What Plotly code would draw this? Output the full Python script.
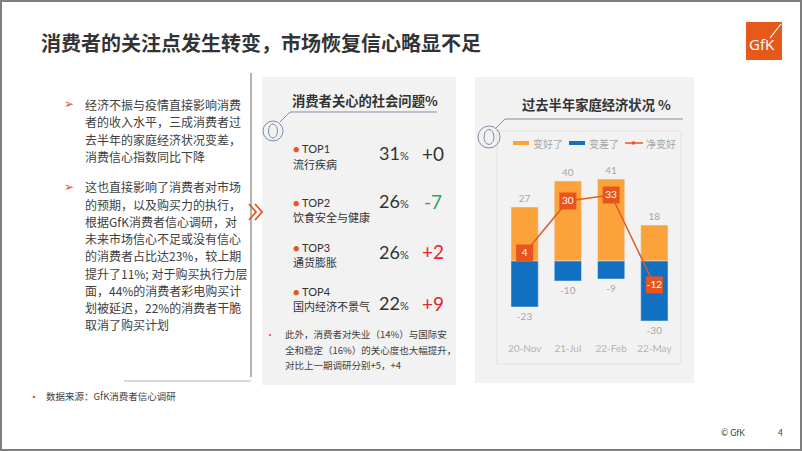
import plotly.graph_objects as go

W, H = 802, 451
def px(x): return x / W
def py(y): return 1 - y / H

# ---------------- data ----------------
periods = ["20-Nov", "21-Jul", "22-Feb", "22-May"]
better = [27, 40, 41, 18]
worse = [-23, -10, -9, -30]
net = [4, 30, 33, -12]

issue_rank = ["TOP1", "TOP2", "TOP3", "TOP4"]
issue_name = ["流行疾病", "饮食安全与健康", "通货膨胀", "国内经济不景气"]
issue_pct = [31, 26, 26, 22]
issue_change = ["+0", "-7", "+2", "+9"]

ORANGE = "#FBA33A"
BLUE = "#1170C2"
RED_OR = "#E8541E"
GRAYTXT = "#A6A6A6"
CJK = "Noto Sans CJK SC"

fig = go.Figure()

fig.add_trace(go.Bar(
    x=periods, y=better, name="变好了", marker_color=ORANGE, width=0.63,
    text=[str(v) for v in better], textposition="outside",
    textfont=dict(family="Lato", size=10, color=GRAYTXT), cliponaxis=False,
))
fig.add_trace(go.Bar(
    x=periods, y=worse, name="变差了", marker_color=BLUE, width=0.63,
    text=[str(v) for v in worse], textposition="outside",
    textfont=dict(family="Lato", size=10, color=GRAYTXT), cliponaxis=False,
))
fig.add_trace(go.Scatter(
    x=periods, y=net, name="净变好", mode="lines+markers+text",
    line=dict(color="#E05A22", width=1.5),
    marker=dict(symbol="square", size=17, color=RED_OR),
    text=[str(v) for v in net], textposition="middle center",
    textfont=dict(family="Lato", size=10, color="white"), cliponaxis=False,
))

zero_px = 261
top_px, bot_px = 165, 341
fig.update_layout(
    width=W, height=H, margin=dict(l=0, r=0, t=0, b=0),
    paper_bgcolor="white", plot_bgcolor="rgba(0,0,0,0)",
    barmode="overlay", showlegend=False,
    xaxis=dict(domain=[px(503), px(676)], showgrid=False, showline=False, zeroline=False,
               ticks="", tickfont=dict(family="Lato", size=10, color="#B5B5B5")),
    yaxis=dict(domain=[py(bot_px), py(top_px)],
               range=[(zero_px - bot_px) / 2, (zero_px - top_px) / 2],
               visible=False, showgrid=False, zeroline=False),
)

shapes = []
ann = []

def rect(x0, y0, x1, y1, fill="rgba(0,0,0,0)", line=None, lw=0, layer="below"):
    shapes.append(dict(type="rect", xref="paper", yref="paper", x0=px(x0), x1=px(x1),
                       y0=py(y1), y1=py(y0), fillcolor=fill,
                       line=dict(color=line or "rgba(0,0,0,0)", width=lw), layer=layer))

def line(x0, y0, x1, y1, color, lw=1, layer="below"):
    shapes.append(dict(type="line", xref="paper", yref="paper", x0=px(x0), x1=px(x1),
                       y0=py(y0), y1=py(y1), line=dict(color=color, width=lw), layer=layer))

def circle(cx, cy, rx, ry, color, lw=1):
    shapes.append(dict(type="circle", xref="paper", yref="paper", x0=px(cx - rx), x1=px(cx + rx),
                       y0=py(cy + ry), y1=py(cy - ry), line=dict(color=color, width=lw), layer="above"))

def text(x, y, s, size=12, color="#404040", family=CJK, anchor="left", bold=False):
    if bold:
        s = "<b>" + s + "</b>"
    ann.append(dict(xref="paper", yref="paper", x=px(x), y=py(y), text=s, showarrow=False,
                    xanchor=anchor, yanchor="middle", align="left",
                    font=dict(family=family, size=size, color=color)))

# frame
rect(1, 1, W - 1, H - 1, line="#7F7F7F", lw=2, layer="above")

# title + logo
text(39, 42, "消费者的关注点发生转变，市场恢复信心略显不足", size=20, color="#333333", bold=True)
rect(746, 22, 782, 60, fill="#E55A1B", layer="above")
text(762, 44, "GfK", size=15, color="white", family="Open Sans", anchor="center")
line(770, 38, 781, 24, "white", 1.2, layer="above")

# left panel
line(251, 73, 251, 377, "#9A9A9A", 1.5)
line(124, 381, 251, 381, "#D9D9D9", 2)
left_lines1 = ["经济不振与疫情直接影响消费", "者的收入水平，三成消费者过",
               "去半年的家庭经济状况变差，", "消费信心指数同比下降"]
left_lines2 = ["这也直接影响了消费者对市场", "的预期，以及购买力的执行，",
               "根据GfK消费者信心调研，对", "未来市场信心不足或没有信心",
               "的消费者占比达23%，较上期", "提升了11%; 对于购买执行力层",
               "面，44%的消费者彩电购买计", "划被延迟，22%的消费者干脆", "取消了购买计划"]
for i, s in enumerate(left_lines1):
    text(83, 104 + i * 17.5, s, size=12)
for i, s in enumerate(left_lines2):
    text(83, 187 + i * 17.2, s, size=12)
text(69, 104, "➢", size=12, color=RED_OR, family="DejaVu Sans", anchor="center")
text(69, 187, "➢", size=12, color=RED_OR, family="DejaVu Sans", anchor="center")
# chevrons
shapes.append(dict(type="path", xref="paper", yref="paper",
                   path=f"M {px(249)},{py(204)} L {px(256)},{py(212)} L {px(249)},{py(220)}",
                   line=dict(color=RED_OR, width=1.8), layer="above"))
shapes.append(dict(type="path", xref="paper", yref="paper",
                   path=f"M {px(255)},{py(204)} L {px(262)},{py(212)} L {px(255)},{py(220)}",
                   line=dict(color=RED_OR, width=1.8), layer="above"))

# middle panel
rect(262, 77, 456, 385, fill="#F2F2F2")
text(290, 101, "消费者关心的社会问题%", size=13.3, color="#333333", bold=True)
line(290, 112, 437, 112, "#7F8FA6", 1)
line(280, 122, 290, 112, "#7F8FA6", 1)
circle(273, 131, 10, 10, "#7F8FA6", 1)
circle(273, 131, 4.5, 7, "#7F8FA6", 1)
rank_y = [149, 202, 247, 291]
name_y = [164, 217, 262, 306]
num_y = [153, 201, 252, 303]
chg_col = ["#333333", "#2EA85A", "#E8242A", "#E8242A"]
for i in range(4):
    text(291, rank_y[i], "<span style='color:%s'>●</span> %s" % (RED_OR, issue_rank[i]),
         size=11, color="#333333", family="Lato")
    text(291, name_y[i], issue_name[i], size=11, color="#333333")
    text(411, num_y[i], "%d<span style='font-size:11px'>%%</span>" % issue_pct[i],
         size=18, color="#333333", family="Lato", anchor="right")
    text(433, num_y[i], issue_change[i], size=19, color=chg_col[i], family="Lato", anchor="center")
text(270, 334, "•", size=10, color=RED_OR, anchor="center")
foot = ["此外，消费者对失业（14%）与国际安", "全和稳定（16%）的关心度也大幅提升，", "对比上一期调研分别+5，+4"]
for i, s in enumerate(foot):
    text(283, 334 + i * 15.5, s, size=9.5, color="#404040")

# right panel
rect(475, 77, 694, 383, fill="#F2F2F2")
rect(497, 131, 681, 364, line="#E2E2E2", lw=1)
text(596, 104, "过去半年家庭经济状况 %", size=13.3, color="#333333", bold=True, anchor="center")
line(505, 119, 683, 119, "#7F8FA6", 1)
line(496, 128, 505, 119, "#7F8FA6", 1)
circle(489, 137, 11, 11, "#7F8FA6", 1)
circle(489, 137, 5, 7.5, "#7F8FA6", 1)
# legend
rect(513, 141, 529, 145, fill=ORANGE, layer="above")
text(531, 143, "变好了", size=10, color=GRAYTXT)
rect(569, 141, 585, 145, fill=BLUE, layer="above")
text(587, 143, "变差了", size=10, color=GRAYTXT)
line(625, 143, 643, 143, "#E05A22", 1.5, layer="above")
rect(632, 141.5, 635, 144.5, fill=RED_OR, layer="above")
text(644, 143, "净变好", size=10, color=GRAYTXT)

# footer
text(34, 396, "▪", size=8, color=RED_OR, anchor="center")
text(44, 396, "数据来源：GfK消费者信心调研", size=9.5, color="#404040")
text(719, 433, "© GfK", size=8.5, color="#404040", family="Lato")
text(776, 433, "4", size=8.5, color="#404040", family="Lato")

fig.update_layout(shapes=shapes, annotations=ann)
fig.write_html("out.html", config={"displayModeBar": False},
               post_script="document.body.style.margin='0px';")
